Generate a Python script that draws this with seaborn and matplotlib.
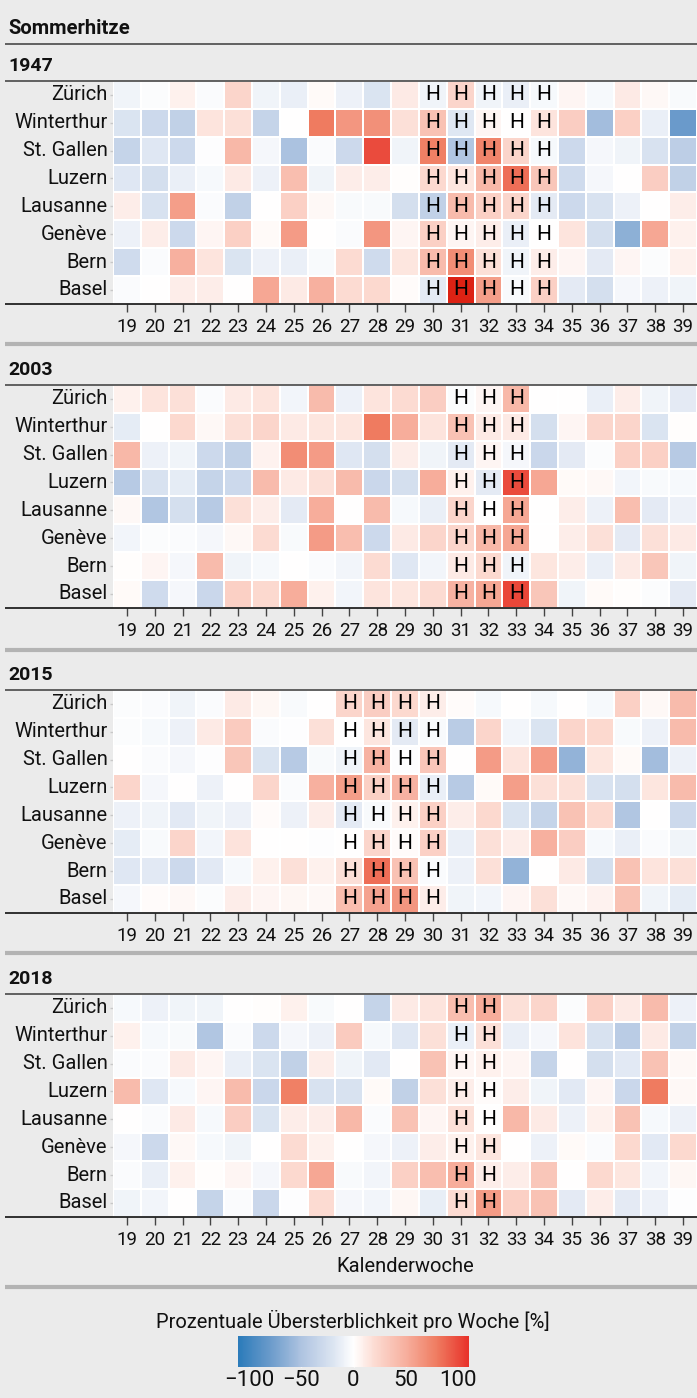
import numpy as np
import pandas as pd
import seaborn as sns
import matplotlib
matplotlib.use("Agg")
import matplotlib.pyplot as plt
from matplotlib.colors import LinearSegmentedColormap, Normalize
from matplotlib.lines import Line2D

# ---------------- data ----------------
cities = ["Zürich", "Winterthur", "St. Gallen", "Luzern", "Lausanne", "Genève", "Bern", "Basel"]
weeks = list(range(19, 40))
years = ["1947", "2003", "2015", "2018"]

excess_1947 = [
    [-8, -2, 8, -3, 25, -8, -12, 3, -10, -20, 12, -8, 25, -8, -12, -5, 6, -5, 12, 4, -4],
    [-20, -30, -38, 15, 18, -35, 0, 80, 65, 68, 18, 38, -18, 6, 0, 15, 30, -55, 28, -12, -80],
    [-35, -18, -30, -1, 45, -6, -52, -3, -30, 100, -8, 78, -48, 75, 25, -5, -30, -6, -8, -22, -40],
    [-18, -25, -12, -5, 12, -10, 40, -8, 10, 10, 1, 22, 14, 45, 85, 35, -28, -6, 0, 30, -38],
    [10, -22, 60, -3, -38, 0, 28, 4, -4, -4, -25, -38, 42, 28, 25, -15, -30, -22, -10, 0, 10],
    [-10, 10, -30, 6, 28, 3, 62, 0, -3, 65, 6, 28, 6, 10, -12, 0, 15, -25, -65, 55, 8],
    [-28, -3, 50, 15, -20, -10, -12, -4, 20, -28, 14, 42, 70, 18, -8, 10, 6, -15, 6, -2, 8],
    [-3, 0, 10, 10, 0, 55, 12, 50, 20, 22, 2, -15, 120, 60, -4, 28, -15, -25, -6, -10, -8],
]
excess_2003 = [
    [8, 15, 18, -3, 12, 15, -7, 42, -10, 15, 20, 30, -2, 6, 45, 0, 0, -12, 10, -8, -15],
    [-14, 0, 22, 4, 18, 25, 12, 14, 14, 80, 52, 15, 38, 12, 12, -25, 6, 24, 25, -20, 1],
    [45, -10, -8, -30, -38, 7, 70, 62, -18, -25, 10, -8, -15, 6, -6, -32, -15, -2, 28, 28, -45],
    [-45, -22, -14, -35, -30, 42, 12, 18, 42, -32, -25, 52, 8, -15, 100, 55, 3, 4, -7, -4, -5],
    [4, -48, -25, -45, 18, 10, -15, 52, 0, 42, -5, -12, 25, 0, 55, 0, 10, -10, 40, -15, -10],
    [-7, -2, -3, -6, 4, 20, -4, 62, 40, -30, 12, 25, 25, 45, 55, 0, 10, 18, -15, 18, 12],
    [1, 6, -6, 42, -8, -5, 0, -3, -7, 20, -18, -7, 12, 22, -8, 14, 10, -12, 12, 35, -8],
    [3, -28, -6, -32, 28, 22, 52, 8, -7, 15, 14, 20, 48, 55, 102, 35, -8, 3, 1, -2, -15],
]
excess_2015 = [
    [-2, -3, -8, -3, 12, 5, -4, 0, 25, 30, 22, 10, 2, -5, 0, -5, 0, -5, 28, 4, 42],
    [-2, -5, -10, 12, 32, -3, -1, 18, 0, 14, -15, -4, -42, 25, -7, -20, 25, 22, -4, -10, 42],
    [0, -3, -6, -1, 35, -20, -45, -4, -8, 48, -1, 35, 0, 62, 15, 62, -62, 14, 3, -55, -10],
    [25, -6, 0, -10, 0, 25, -3, 50, 60, 28, 48, -12, -45, 3, 60, 18, 18, -22, -25, 14, 42],
    [-10, -8, -16, -8, -10, 2, -10, 10, -15, -4, 8, 28, 10, 22, -20, -35, 38, 22, -48, 0, -30],
    [-14, -4, 25, -7, 16, 0, 0, -1, 0, 25, 2, 28, -12, 18, 10, 50, 30, -5, -12, -3, -8],
    [-18, -16, -30, -16, -5, 8, 18, 8, 18, 85, 38, -3, -10, 18, -62, 0, 12, -25, 38, 15, 18],
    [-6, 2, 4, -2, 10, 6, 5, 4, 40, 58, 65, 10, -8, -7, 6, 18, 4, 7, 38, -8, -14],
]
excess_2018 = [
    [-5, -10, -8, -8, 0, 1, 8, -4, 0, -35, 12, 15, 40, 52, 18, 25, -2, 28, 12, 42, -10],
    [8, -5, -4, -48, -3, -30, -6, -10, 32, -5, -18, 18, -12, 18, -12, -6, 16, -22, -42, 12, -38],
    [-3, -3, 12, 6, -12, -20, -38, 10, -8, -16, 0, 38, 6, 8, 6, -35, 0, -25, -16, 38, 4],
    [42, -18, -5, 6, 42, -32, 78, -22, -22, 3, -38, 18, 10, 2, 10, -8, -16, 6, -32, 80, 4],
    [0, -3, 12, -5, 30, -20, 10, 10, 45, -3, 38, 6, 18, 0, 45, 12, -10, 8, 38, -5, -10],
    [-6, -30, 4, -5, -8, 0, 20, 8, 0, -6, -10, 10, 8, 14, 0, -10, 3, -3, 22, -16, 22],
    [-3, -12, 8, 1, 6, -6, 22, 55, -4, -7, 28, 40, 52, 10, 10, 35, 0, 22, 14, -7, 5],
    [-8, -7, 0, -35, -3, -32, -1, 20, -6, -7, 5, -13, 20, 62, 28, 38, -15, 10, -15, -10, -1],
]

hot_weeks_1947 = [30, 31, 32, 33, 34]
hot_weeks_2003 = [31, 32, 33]
hot_weeks_2015 = [27, 28, 29, 30]
hot_weeks_2018 = [31, 32]

colorbar_ticks = [-100, -50, 0, 50, 100]
colorbar_ticklabels = ["\u2212100", "\u221250", "0", "50", "100"]

# ---------------- style ----------------
sns.set_theme(style="white")
plt.rcParams["font.family"] = ["Roboto", "DejaVu Sans"]
plt.rcParams["text.color"] = "#111111"
plt.rcParams["xtick.labelcolor"] = "#111111"
plt.rcParams["ytick.labelcolor"] = "#111111"

BG = "#ebebeb"
W, H = 697, 1398
VMIN, VMAX = -111, 111

anchors = [(-111, "#2b7bba"), (-80, "#6b9bcb"), (-50, "#afc4e1"), (-20, "#dbe4f1"),
           (0, "#ffffff"), (20, "#fcdcd3"), (50, "#f7b09f"), (80, "#ef7c61"), (111, "#e8322a")]
cmap = LinearSegmentedColormap.from_list(
    "excess", [((v - VMIN) / (VMAX - VMIN), c) for v, c in anchors])
cmap.set_over("#dc2214")
norm = Normalize(VMIN, VMAX)

fig = plt.figure(figsize=(W / 100, H / 100), dpi=100, facecolor=BG)


def fy(y):
    return 1 - y / H


def fx(x):
    return x / W


def hline(y, color, lw, x0=5, x1=697):
    fig.add_artist(Line2D([fx(x0), fx(x1)], [fy(y), fy(y)], color=color, lw=lw,
                          transform=fig.transFigure, solid_capstyle="butt"))


fig.text(fx(8), fy(28), "Sommerhitze", fontsize=14.5, fontweight="bold", va="center", ha="left")
hline(43.5, "#555555", 1.3)

data_sets = [excess_1947, excess_2003, excess_2015, excess_2018]
hot_sets = [hot_weeks_1947, hot_weeks_2003, hot_weeks_2015, hot_weeks_2018]
tops = [81, 385, 690, 994]
row_h = 27.85
ax_left, ax_right = 113, 697

for yr, vals, hot, top in zip(years, data_sets, hot_sets, tops):
    df = pd.DataFrame(vals, index=cities, columns=weeks)
    annot = np.array([["H" if w in hot else "" for w in weeks] for _ in cities])
    hgt = row_h * len(cities)
    ax = fig.add_axes([fx(ax_left), fy(top + hgt), fx(ax_right - ax_left), hgt / H])
    sns.heatmap(df, ax=ax, cmap=cmap, norm=norm, vmin=VMIN, vmax=VMAX, cbar=False,
                annot=annot, fmt="", annot_kws={"color": "black", "fontsize": 15},
                linewidths=1.2, linecolor="white", square=False)
    ax.set_facecolor(BG)
    ax.set_xlabel("")
    ax.set_ylabel("")
    ax.set_yticklabels(cities, rotation=0, fontsize=14.5)
    ax.set_xticklabels([str(w) for w in weeks], rotation=0, fontsize=13.5)
    ax.tick_params(axis="x", bottom=True, length=6, width=1, color="#444444", pad=4)
    ax.tick_params(axis="y", left=True, length=2, width=1, color="#c8c8c8", pad=2)
    for s in ax.spines.values():
        s.set_visible(False)
    # year header
    fig.text(fx(8), fy(top - 15), yr, fontsize=14, fontweight="bold", va="center", ha="left")
    hline(top - 0.5, "#555555", 1.3)
    hline(top + hgt + 0.5, "#111111", 1.2)

for y in [344, 650, 953, 1287]:
    hline(y, "#b3b3b3", 3)

fig.text(fx(405), fy(1266), "Kalenderwoche", fontsize=14.5, ha="center", va="center")

# colorbar
fig.text(fx(353), fy(1321), "Prozentuale Übersterblichkeit pro Woche [%]", fontsize=14.5,
         ha="center", va="center")
cax = fig.add_axes([fx(238), fy(1367), fx(469 - 238), (1367 - 1336) / H])
sm = plt.cm.ScalarMappable(norm=norm, cmap=cmap)
cb = fig.colorbar(sm, cax=cax, orientation="horizontal")
cb.outline.set_visible(False)
cb.set_ticks(colorbar_ticks)
cb.set_ticklabels(colorbar_ticklabels)
cax.tick_params(axis="x", direction="in", length=8, width=1, color="white",
                labelsize=16, pad=2)

fig.savefig("out.png", dpi=100, facecolor=BG)
